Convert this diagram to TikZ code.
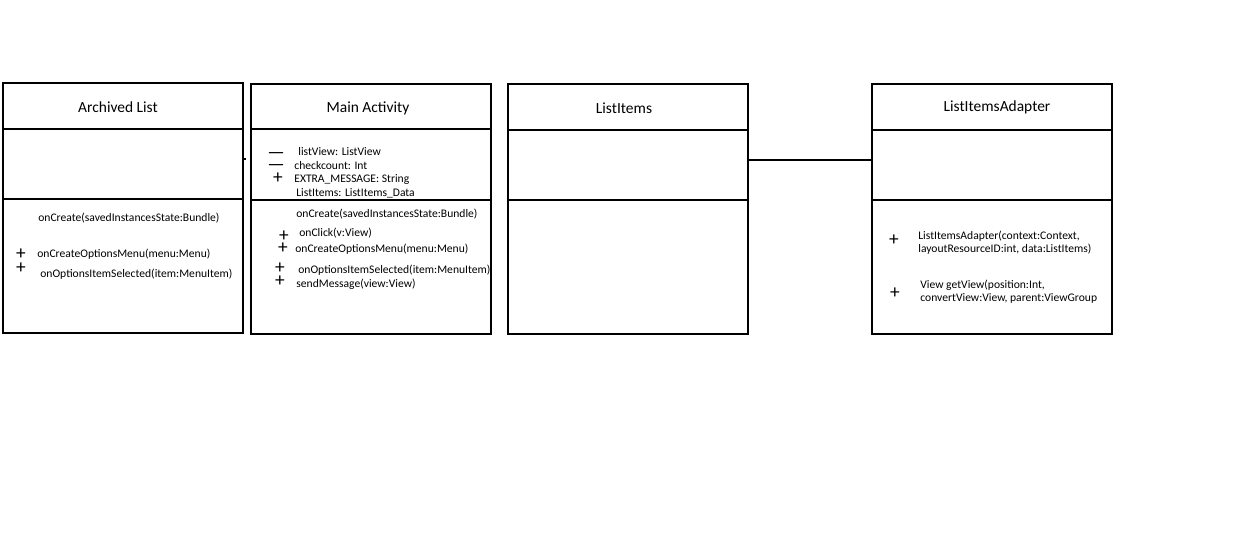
\documentclass[tikz,border=0pt]{standalone}
\usepackage{fontspec}
\setmainfont{Carlito}
\usetikzlibrary{positioning}

\begin{document}
\begin{tikzpicture}[x=0.02cm, y=-0.02cm,
  classbox/.style={rectangle, draw, line width=0.8pt, minimum width=4.8cm, minimum height=5cm, inner sep=0pt},
  title/.style={font=\fontsize{8.8}{10.5}\selectfont},
  member/.style={anchor=west, inner sep=0pt, align=left, font=\fontsize{6.6}{7.6}\selectfont},
  sign/.style={inner sep=0pt, text height=0.5em, text depth=0pt, font=\fontsize{11}{11}\selectfont}]
\useasboundingbox (0,0) rectangle (1256,541);

% Class boxes
\node (arch) [classbox] at (123,208) {};
\node (main) [classbox] at (371,209) {};
\node (items) [classbox] at (628,209) {};
\node (adapter) [classbox] at (992,209) {};

% Dividers
\draw[line width=0.8pt] (arch.west |- 0,129) -- (arch.east |- 0,129);
\draw[line width=0.8pt] (arch.west |- 0,199) -- (arch.east |- 0,199);
\draw[line width=0.8pt] (main.west |- 0,129) -- (main.east |- 0,129);
\draw[line width=0.8pt] (main.west |- 0,200) -- (main.east |- 0,200);
\draw[line width=0.8pt] (items.west |- 0,130) -- (items.east |- 0,130);
\draw[line width=0.8pt] (items.west |- 0,200) -- (items.east |- 0,200);
\draw[line width=0.8pt] (adapter.west |- 0,130) -- (adapter.east |- 0,130);
\draw[line width=0.8pt] (adapter.west |- 0,200) -- (adapter.east |- 0,200);

% Titles
\node (archT) [title] at (118,107) {Archived List};
\node (mainT) [title] at (368,108) {Main Activity};
\node (itemsT) [title] at (624,108) {ListItems};
\node (adapterT) [title] at (997,107) {ListItemsAdapter};

% Archived List
\node (a1) [member] at (38,218) {onCreate(savedInstancesState:Bundle)};
\node (a2s) [sign] at (21,255) {+};
\node (a2) [member] at (37,254) {onCreateOptionsMenu(menu:Menu)};
\node (a3s) [sign] at (21,269) {+};
\node (a3) [member] at (40,274) {onOptionsItemSelected(item:MenuItem)};

% Main Activity - attributes
\node (m1s) [sign] at (276,154) {---};
\node (m1) [member] at (298,152) {listView: ListView};
\node (m2s) [sign] at (276,166) {---};
\node (m2) [member] at (294,166) {checkcount: Int};
\node (m3s) [sign] at (278,179) {+};
\node (m3) [member] at (294,180) {EXTRA\_MESSAGE: String};
\node (m4) [member] at (296,193) {ListItems: ListItems\_Data};

% Main Activity - methods
\node (m5) [member] at (296,214) {onCreate(savedInstancesState:Bundle)};
\node (m6s) [sign] at (284,237) {+};
\node (m6) [member] at (299,233) {onClick(v:View)};
\node (m7s) [sign] at (283,249) {+};
\node (m7) [member] at (295,249) {onCreateOptionsMenu(menu:Menu)};
\node (m8s) [sign] at (280,269) {+};
\node (m8) [member] at (298,270) {onOptionsItemSelected(item:MenuItem)};
\node (m9s) [sign] at (280,282) {+};
\node (m9) [member] at (296,284) {sendMessage(view:View)};

% ListItemsAdapter
\node (d1s) [sign] at (894,241) {+};
\node (d1) [member] at (918,243) {ListItemsAdapter(context:Context,\\layoutResourceID:int, data:ListItems)};
\node (d2s) [sign] at (895,294) {+};
\node (d2) [member] at (920,292) {View getView(position:Int,\\convertView:View, parent:ViewGroup};

% Connectors
\coordinate (link) at (810,160);
\draw[line width=0.6pt] (link -| items.east) -- (link -| adapter.west);
\coordinate (stub) at (246,159);
\draw[line width=0.6pt] (stub -| arch.east) -- (stub);
\end{tikzpicture}
\end{document}
